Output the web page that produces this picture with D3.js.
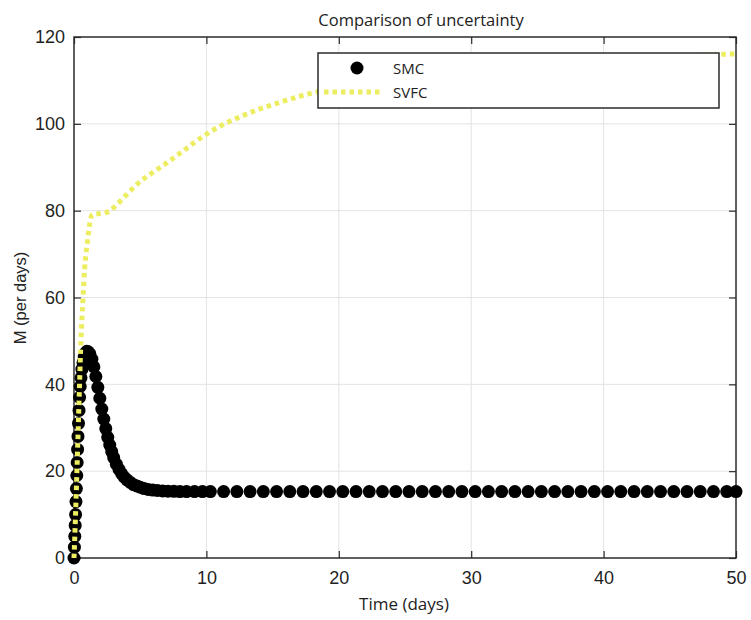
<!DOCTYPE html>
<html>
<head>
<meta charset="utf-8">
<script src="https://cdn.jsdelivr.net/npm/d3@7"></script>
<style>
  body { margin: 0; background: #fff; }
  svg { display: block; }
</style>
</head>
<body>
<svg id="chart"></svg>
<script>
const width = 751;
const height = 620;

// SMC: adaptive solver steps, dense at the start
const smcTime = [0, 0.03, 0.06, 0.09, 0.12, 0.15, 0.18, 0.21, 0.24, 0.27, 0.3, 0.34, 0.38, 0.42, 0.47, 0.53, 0.6, 0.68, 0.77, 0.87, 0.97, 1.07,
  1.2, 1.35, 1.5, 1.65, 1.8, 1.95, 2.1, 2.25, 2.4, 2.55, 2.7, 2.85, 3.0, 3.2, 3.4, 3.6, 3.8, 4.0, 4.25, 4.5, 4.75, 5.0, 5.3, 5.6, 5.95, 6.3, 6.7, 7.1, 7.55, 8.0, 8.5, 9.1, 9.7,
  10.3, 11.3, 12.3, 13.3, 14.3, 15.3, 16.3, 17.3, 18.3, 19.3, 20.3, 21.3, 22.3, 23.3, 24.3, 25.3, 26.3, 27.3, 28.3, 29.3,
  30.3, 31.3, 32.3, 33.3, 34.3, 35.3, 36.3, 37.3, 38.3, 39.3, 40.3, 41.3, 42.3, 43.3, 44.3, 45.3, 46.3, 47.3, 48.3, 49.3, 50];
const smcValues = [0, 2.5, 5, 7.5, 10, 13, 16, 19, 22, 25, 28, 31, 34, 37, 39.5, 41.5, 43.5, 45, 46.3, 47.2, 47.6, 47.5,
  47.0, 45.8, 44.0, 41.8, 39.3, 36.8, 34.3, 32.0, 29.8, 27.8, 26.0, 24.5, 23.1, 21.6, 20.4, 19.4, 18.6, 18.0, 17.4, 16.9, 16.6, 16.3, 16.0, 15.8, 15.65, 15.55, 15.45, 15.4, 15.35, 15.3, 15.3, 15.3, 15.3,
  15.3, 15.3, 15.3, 15.3, 15.3, 15.3, 15.3, 15.3, 15.3, 15.3, 15.3, 15.3, 15.3, 15.3, 15.3, 15.3, 15.3, 15.3, 15.3, 15.3,
  15.3, 15.3, 15.3, 15.3, 15.3, 15.3, 15.3, 15.3, 15.3, 15.3, 15.3, 15.3, 15.3, 15.3, 15.3, 15.3, 15.3, 15.3, 15.3, 15.3, 15.3];

// SVFC
const svfcTime = [0, 0.1, 0.2, 0.3, 0.4, 0.5, 0.6, 0.7, 0.8, 0.9, 1.0, 1.1, 1.2, 1.35, 1.6, 1.9, 2.2, 2.6, 3.0, 3.5, 4.0, 4.5, 5,
  6, 7, 8, 9, 10, 11, 12, 13, 14, 15, 16, 17, 18, 20, 25, 30, 35, 40, 45, 50];
const svfcValues = [0, 8.5, 18, 28, 38, 48, 55, 61, 66.5, 70, 72.5, 75, 77.2, 79, 79.3, 79.3, 79.4, 79.8, 80.7, 82.2, 83.8, 85.3, 86.7,
  88.9, 91.0, 93.2, 95.5, 97.6, 99.4, 100.9, 102.2, 103.4, 104.4, 105.4, 106.3, 107.1, 108.4, 110.8, 112.6, 113.9, 114.9, 115.6, 116.1];

const xTicks = [0, 10, 20, 30, 40, 50];
const yTicks = [0, 20, 40, 60, 80, 100, 120];
const seriesNames = ["SMC", "SVFC"];

const plotLeft = 74, plotRight = 736, plotTop = 37, plotBottom = 558;
const tickFont = "'Liberation Sans', Arial, sans-serif";
const textFont = "'Open Sans', 'Noto Sans', sans-serif";
const axisColor = "#2b2b2b";
const yellow = "#eded62";

const x = d3.scaleLinear().domain([0, 50]).range([plotLeft, plotRight]);
const y = d3.scaleLinear().domain([0, 120]).range([plotBottom, plotTop]);

const svg = d3.select("#chart")
  .attr("width", width)
  .attr("height", height);

svg.append("rect").attr("width", width).attr("height", height).attr("fill", "#fff");

// grid
const grid = svg.append("g");
grid.selectAll(".gx").data(xTicks.slice(1, -1)).enter().append("line")
  .attr("x1", d => x(d)).attr("x2", d => x(d))
  .attr("y1", plotTop).attr("y2", plotBottom)
  .attr("stroke", "#e3e3e3").attr("stroke-width", 1);
grid.selectAll(".gy").data(yTicks.slice(1, -1)).enter().append("line")
  .attr("x1", plotLeft).attr("x2", plotRight)
  .attr("y1", d => y(d)).attr("y2", d => y(d))
  .attr("stroke", "#e3e3e3").attr("stroke-width", 1);

// axes, ticks pointing inward like matlab
function styleAxis(g) {
  g.select(".domain").remove();
  g.selectAll(".tick line").attr("stroke", axisColor).attr("stroke-width", 1.2);
  g.selectAll(".tick text")
    .attr("fill", "#1f1f1f")
    .attr("font-family", tickFont)
    .attr("font-size", 18);
}

svg.append("g").attr("transform", `translate(0,${plotBottom})`)
  .call(d3.axisBottom(x).tickValues(xTicks).tickSize(-7).tickPadding(13))
  .call(styleAxis);
svg.append("g").attr("transform", `translate(0,${plotTop})`)
  .call(d3.axisTop(x).tickValues(xTicks).tickSize(-7).tickFormat(""))
  .call(styleAxis);
svg.append("g").attr("transform", `translate(${plotLeft},0)`)
  .call(d3.axisLeft(y).tickValues(yTicks).tickSize(-7).tickPadding(9))
  .call(styleAxis);
svg.append("g").attr("transform", `translate(${plotRight},0)`)
  .call(d3.axisRight(y).tickValues(yTicks).tickSize(-7).tickFormat(""))
  .call(styleAxis);

svg.append("rect")
  .attr("x", plotLeft).attr("y", plotTop)
  .attr("width", plotRight - plotLeft).attr("height", plotBottom - plotTop)
  .attr("fill", "none").attr("stroke", axisColor).attr("stroke-width", 1.5);

// SMC markers
svg.append("g").selectAll("circle")
  .data(smcTime.map((t, i) => [t, smcValues[i]]))
  .enter().append("circle")
    .attr("cx", d => x(d[0]))
    .attr("cy", d => y(d[1]))
    .attr("r", 6.5)
    .attr("fill", "#000");

// SVFC dotted line
const line = d3.line()
  .x(d => x(d[0]))
  .y(d => y(d[1]))
  .curve(d3.curveMonotoneX);

svg.append("path")
  .datum(svfcTime.map((t, i) => [t, svfcValues[i]]))
  .attr("d", line)
  .attr("fill", "none")
  .attr("stroke", yellow)
  .attr("stroke-width", 5)
  .attr("stroke-dasharray", "4.5,4");

// legend
const legend = svg.append("g");
legend.append("rect")
  .attr("x", 318).attr("y", 53)
  .attr("width", 401).attr("height", 55)
  .attr("fill", "#fff").attr("stroke", axisColor).attr("stroke-width", 1.5);
legend.append("circle").attr("cx", 357).attr("cy", 68).attr("r", 6.5).attr("fill", "#000");
legend.append("line")
  .attr("x1", 324).attr("x2", 383).attr("y1", 92).attr("y2", 92)
  .attr("stroke", yellow).attr("stroke-width", 5).attr("stroke-dasharray", "4.5,4");
legend.selectAll(".lbl").data(seriesNames).enter().append("text")
  .attr("x", 393)
  .attr("y", (d, i) => 74 + i * 24)
  .attr("font-family", textFont)
  .attr("font-size", 15)
  .attr("fill", "#222")
  .text(d => d);

// titles
svg.append("text")
  .attr("x", 421).attr("y", 26)
  .attr("text-anchor", "middle")
  .attr("font-family", textFont)
  .attr("font-size", 16.5)
  .attr("fill", "#222")
  .text("Comparison of uncertainty");

svg.append("text")
  .attr("x", 404).attr("y", 610)
  .attr("text-anchor", "middle")
  .attr("font-family", textFont)
  .attr("font-size", 17)
  .attr("fill", "#222")
  .text("Time (days)");

svg.append("text")
  .attr("transform", "translate(26,298) rotate(-90)")
  .attr("text-anchor", "middle")
  .attr("font-family", tickFont)
  .attr("font-size", 16.5)
  .attr("fill", "#222")
  .text("M (per days)");
</script>
</body>
</html>
